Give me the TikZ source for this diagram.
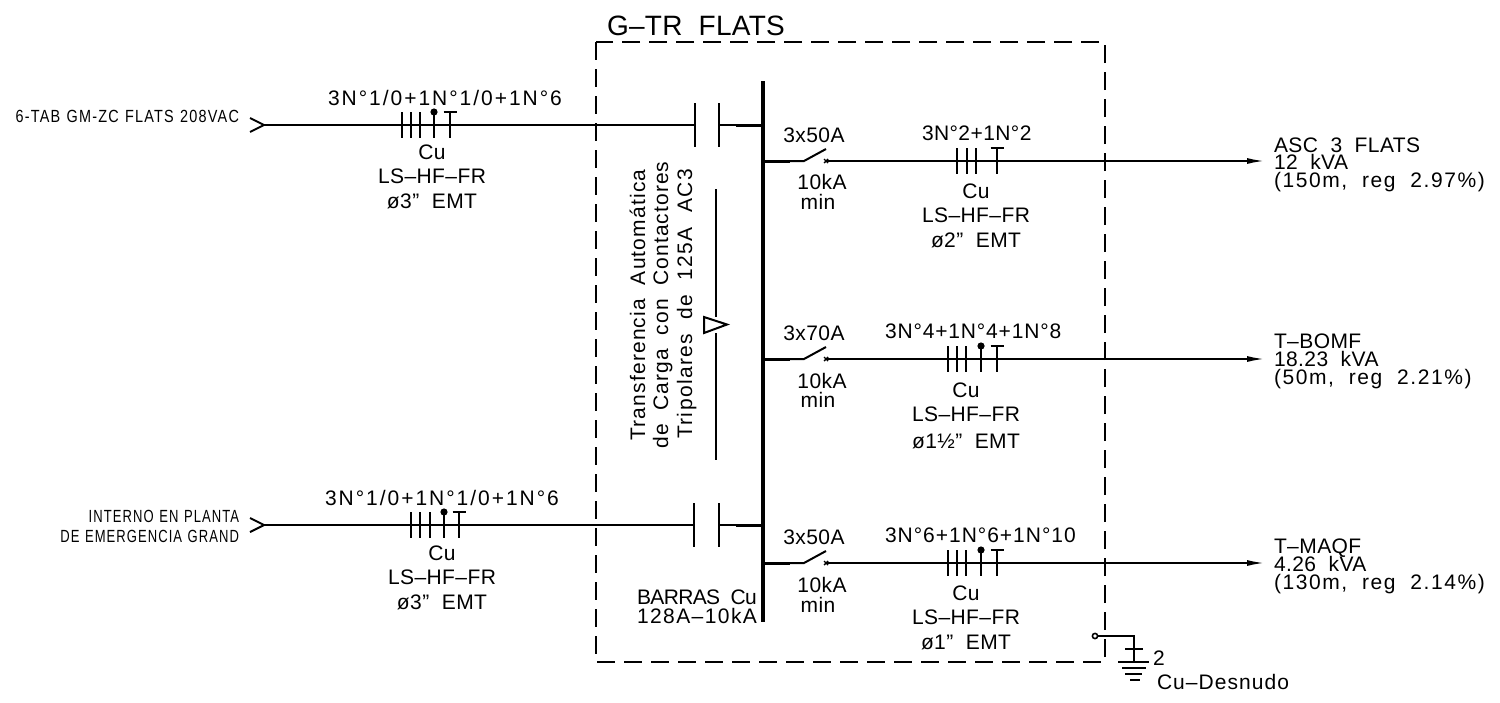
\documentclass[tikz,border=0pt]{standalone}
\usepackage{fontspec}
\usetikzlibrary{arrows.meta}
\newfontfamily\cadfont[WordSpace=2]{Liberation Sans}
\newfontfamily\smallcad[LetterSpace=7,WordSpace=1.2,FakeStretch=0.82]{Liberation Sans}
\newfontfamily\smallcadb[LetterSpace=6,WordSpace=1.2,FakeStretch=0.74]{Liberation Sans}
\newcommand{\PhaseTicks}[2]{\foreach \tx in {#1}{\draw[wire] (\tx,#2-13) -- (\tx,#2+13);}}
\newcommand{\NeutralTick}[2]{\draw[wire] (#1,#2-13) -- (#1,#2+13); \fill (#1,#2-13) circle[radius=3.6];}
\newcommand{\EarthTick}[2]{\draw[wire] (#1,#2-13) -- (#1,#2+13); \draw[wire] (#1-6.5,#2-13) -- (#1+6.5,#2-13);}
\tikzset{
  x=0.5pt,y=-0.5pt,
  wire/.style={line width=1pt},
  heavy/.style={line width=1.5pt},
  ls/.style={font=\cadfont\fontsize{10.5}{12}\selectfont\addfontfeature{LetterSpace=#1}},
  lbl/.style={inner sep=0pt,outer sep=0pt,anchor=base,ls=2},
  lblw/.style={lbl,anchor=base west},
  small/.style={inner sep=0pt,outer sep=0pt,anchor=base east,font=\smallcad\fontsize{8.8}{10}\selectfont},
  smallb/.style={small,font=\smallcadb\fontsize{8.8}{10}\selectfont},
  feeder/.style={wire,-{Latex[length=9pt,width=3pt]}},
}
\begin{document}
\begin{tikzpicture}
\useasboundingbox (0,0) rectangle (1500,702);
\fill[white] (0,0) rectangle (1500,702);
% enclosure
\draw[wire,dash pattern=on 9pt off 4.5pt] (596,42) rectangle (1105,662);
\node[lblw,font=\cadfont\fontsize{14}{16}\selectfont\addfontfeature{LetterSpace=1}] (title) at (607,35) {G–TR FLATS};
% busbar
\coordinate (busT) at (763,81);
\coordinate (busB) at (763,622);
\draw[line width=2pt] (busT) -- (busB);
% incoming 1
\coordinate (in1) at (250,125);
\coordinate (k1a) at (695,125);
\coordinate (k1b) at (719,125);
\coordinate (k1c) at (736,125);
\coordinate (k1d) at (763,125);
\draw[wire] (250,118) -- (264,125) -- (250,132);
\draw[wire] (in1) ++(14,0) -- (k1a);
\draw[wire] (695,103) -- (695,147);
\draw[wire] (719,103) -- (719,147);
\draw[wire] (k1b) -- (k1c);
\draw[heavy] (k1c) -- (k1d);
\PhaseTicks{402,411,420}{125}
\NeutralTick{434}{125}
\EarthTick{450}{125}
\node[small] (src1) at (239,122) {6-TAB GM-ZC FLATS 208VAC};
\node[lblw,ls=9.4] (c1a) at (328,105) {3N°1/0+1N°1/0+1N°6};
\node[lbl] (c1b) at (432,159) {Cu};
\node[lbl] (c1c) at (432,183) {LS–HF–FR};
\node[lbl] (c1d) at (432,208) {ø3” EMT};
% incoming 2
\coordinate (in2) at (250,525);
\coordinate (k2a) at (694,525);
\coordinate (k2b) at (719,525);
\coordinate (k2c) at (736,525);
\coordinate (k2d) at (763,525);
\draw[wire] (250,518) -- (264,525) -- (250,532);
\draw[wire] (in2) ++(14,0) -- (k2a);
\draw[wire] (694,503) -- (694,547);
\draw[wire] (719,503) -- (719,547);
\draw[wire] (k2b) -- (k2c);
\draw[heavy] (k2c) -- (k2d);
\PhaseTicks{411,420,430}{525}
\NeutralTick{444}{525}
\EarthTick{459}{525}
\node[smallb] (src2a) at (239,522) {INTERNO EN PLANTA};
\node[smallb] (src2b) at (239,542) {DE EMERGENCIA GRAND};
\node[lblw,ls=9.4] (c2a) at (325,505) {3N°1/0+1N°1/0+1N°6};
\node[lbl] (c2b) at (442,560) {Cu};
\node[lbl] (c2c) at (442,584) {LS–HF–FR};
\node[lbl] (c2d) at (442,609) {ø3” EMT};
% transfer annotation
\node[lbl,ls=5.5,rotate=90,anchor=base] (tr1) at (645,305) {Transferencia Automática};
\node[lbl,ls=5,rotate=90,anchor=base] (tr2) at (668,305) {de Carga con Contactores};
\node[lbl,ls=6.5,rotate=90,anchor=base] (tr3) at (692,304) {Tripolares de 125A AC3};
\coordinate (mT) at (716,189);
\coordinate (mB) at (716,460);
\draw[wire] (mT) -- (716,317);
\draw[wire] (716,333) -- (mB);
\draw[wire] (704,317) -- (727,324.5) -- (704,333) -- cycle;
\node[lblw,ls=-3] (bar1) at (637,604) {BARRAS Cu};
\node[lblw,ls=6.8] (bar2) at (637,623) {128A–10kA};
% outgoing 1
\coordinate (o1a) at (763,161);
\coordinate (o1b) at (790,161);
\coordinate (o1c) at (804,161);
\coordinate (o1d) at (826,161);
\coordinate (o1e) at (1265,161);
\draw[heavy] (o1a) -- (o1b);
\draw[wire] (o1b) -- (o1c) -- (826,149);
\draw[line width=0.7pt] (824,159) -- (828,163) (824,163) -- (828,159);
\draw[feeder] (o1d) -- (o1e);
\PhaseTicks{957,967,976}{161}
\EarthTick{997}{161}
\node[lbl] (b1a) at (814,142) {3x50A};
\node[lbl] (b1b) at (822,189) {10kA};
\node[lbl] (b1c) at (818,209) {min};
\node[lblw] (d1a) at (922,140) {3N°2+1N°2};
\node[lbl] (d1b) at (976,198) {Cu};
\node[lbl] (d1c) at (976,222) {LS–HF–FR};
\node[lbl] (d1d) at (976,247) {ø2” EMT};
\node[lblw] (e1a) at (1274,152) {ASC 3 FLATS};
\node[lblw] (e1b) at (1274,169) {12 kVA};
\node[lblw,ls=7.5] (e1c) at (1274,187) {(150m, reg 2.97\%)};
% outgoing 2
\coordinate (o2a) at (763,359);
\coordinate (o2b) at (790,359);
\coordinate (o2c) at (804,359);
\coordinate (o2d) at (826,359);
\coordinate (o2e) at (1265,359);
\draw[heavy] (o2a) -- (o2b);
\draw[wire] (o2b) -- (o2c) -- (826,347);
\draw[line width=0.7pt] (824,357) -- (828,361) (824,361) -- (828,357);
\draw[feeder] (o2d) -- (o2e);
\PhaseTicks{948,957,966}{359}
\NeutralTick{981}{359}
\EarthTick{997}{359}
\node[lbl] (b2a) at (814,340) {3x70A};
\node[lbl] (b2b) at (822,388) {10kA};
\node[lbl] (b2c) at (818,407) {min};
\node[lblw,ls=4] (d2a) at (885,338) {3N°4+1N°4+1N°8};
\node[lbl] (d2b) at (966,397) {Cu};
\node[lbl] (d2c) at (966,421) {LS–HF–FR};
\node[lbl] (d2d) at (966,448) {ø1½” EMT};
\node[lblw] (e2a) at (1274,348) {T–BOMF};
\node[lblw] (e2b) at (1274,366) {18.23 kVA};
\node[lblw,ls=7.5] (e2c) at (1274,384) {(50m, reg 2.21\%)};
% outgoing 3
\coordinate (o3a) at (763,563);
\coordinate (o3b) at (790,563);
\coordinate (o3c) at (804,563);
\coordinate (o3d) at (826,563);
\coordinate (o3e) at (1265,563);
\draw[heavy] (o3a) -- (o3b);
\draw[wire] (o3b) -- (o3c) -- (826,551);
\draw[line width=0.7pt] (824,561) -- (828,565) (824,565) -- (828,561);
\draw[feeder] (o3d) -- (o3e);
\PhaseTicks{948,957,966}{563}
\NeutralTick{981}{563}
\EarthTick{997}{563}
\node[lbl] (b3a) at (814,544) {3x50A};
\node[lbl] (b3b) at (822,592) {10kA};
\node[lbl] (b3c) at (818,612) {min};
\node[lblw,ls=4.7] (d3a) at (885,542) {3N°6+1N°6+1N°10};
\node[lbl] (d3b) at (966,600) {Cu};
\node[lbl] (d3c) at (966,624) {LS–HF–FR};
\node[lbl] (d3d) at (966,649) {ø1” EMT};
\node[lblw] (e3a) at (1274,553) {T–MAQF};
\node[lblw] (e3b) at (1274,571) {4.26 kVA};
\node[lblw,ls=7.5] (e3c) at (1274,589) {(130m, reg 2.14\%)};
% earth
\node[circle,draw,line width=0.8pt,inner sep=0pt,minimum size=2.6pt,fill=white] (gs) at (1095,636) {};
\coordinate (gc) at (1134,636);
\coordinate (gb) at (1134,662);
\draw[wire] (gs) -- (gc) -- (gb);
\draw[wire] (1125,649) -- (1143,649);
\draw[wire] (1118,662) -- (1149,662);
\draw[wire] (1122,668) -- (1146,668);
\draw[wire] (1125,674) -- (1142,674);
\draw[wire] (1130,680) -- (1140,680);
\node[lblw] (g2) at (1153,665) {2};
\node[lblw,ls=5] (g3) at (1157,689) {Cu–Desnudo};
\end{tikzpicture}
\end{document}
